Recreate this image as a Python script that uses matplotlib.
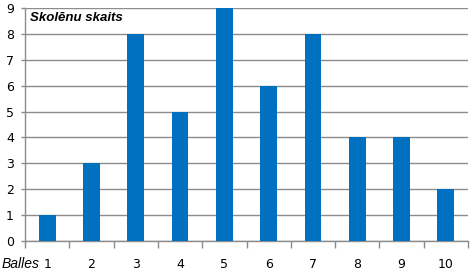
import matplotlib
matplotlib.use("Agg")
import matplotlib.pyplot as plt
import numpy as np

# Grades and number of students per grade
balles = ['1', '2', '3', '4', '5', '6', '7', '8', '9', '10']
skaits = [1, 3, 8, 5, 9, 6, 8, 4, 4, 2]
y_ticks = list(range(0, 10))

fig = plt.figure(figsize=(4.71, 2.77), dpi=100)
ax = fig.add_axes([25 / 471, 36 / 277, 443 / 471, 233 / 277])

x = np.arange(len(balles))
ax.bar(x, skaits, width=0.377, color='#0070C0', zorder=3)

ax.set_xlim(-0.5, len(balles) - 0.5)
ax.set_ylim(0, 9)

# Gridlines
ax.set_yticks(y_ticks)
ax.yaxis.grid(True, color='#8c8c8c', linewidth=1)
ax.set_axisbelow(True)

# Category labels centered, tick marks on boundaries
ax.set_xticks(x)
ax.set_xticklabels(balles)
ax.set_xticks(np.arange(-0.5, len(balles)), minor=True)
ax.tick_params(axis='x', which='major', length=0, pad=12, labelsize=9)
ax.tick_params(axis='x', which='minor', length=5, color='#8c8c8c', width=1)
ax.tick_params(axis='y', length=3, color='#8c8c8c', width=1, labelsize=9, pad=5)

for s in ['top', 'right']:
    ax.spines[s].set_visible(False)
for s in ['left', 'bottom']:
    ax.spines[s].set_color('#8c8c8c')
    ax.spines[s].set_linewidth(1)

# Axis titles
fig.text(30 / 471, 1 - 18 / 277, 'Skolēnu skaits', fontsize=9.5, fontweight='bold',
         style='italic', family='Liberation Sans', va='center', ha='left')
fig.text(2 / 471, 1 - 264 / 277, 'Balles', fontsize=10, style='italic',
         family='Liberation Sans', va='center', ha='left')

fig.savefig('out.png', dpi=100)
